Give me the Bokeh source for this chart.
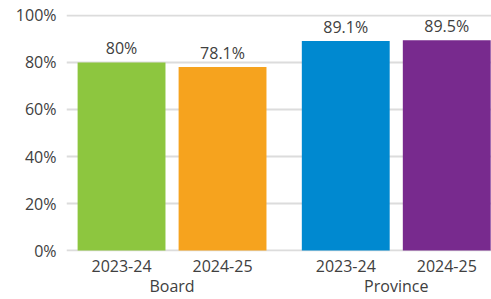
from bokeh.plotting import figure
from bokeh.models import (Range1d, FixedTicker, LinearAxis, ColumnDataSource,
                          LabelSet, PrintfTickFormatter)
from bokeh.core.properties import value
from bokeh.embed import file_html
from bokeh.resources import INLINE

groups = ["Board", "Board", "Province", "Province"]
years = ["2023-24", "2024-25", "2023-24", "2024-25"]
values = [80, 78.1, 89.1, 89.5]
colors = ["#8DC63F", "#F6A31E", "#0089D0", "#782A8E"]
y_ticks = [0, 20, 40, 60, 80, 100]

FONT = "Open Sans"
TEXT = "#404040"
GROUP_GAP = 0.22
BAR_W = 0.87

group_names = list(dict.fromkeys(groups))
xs = [i + GROUP_GAP * group_names.index(g) for i, g in enumerate(groups)]
group_centers = [sum(x for x, g in zip(xs, groups) if g == n) / groups.count(n) for n in group_names]
labels = [f"{v:g}%" for v in values]

src = ColumnDataSource(dict(x=xs, top=values, color=colors, label=labels))

p = figure(width=491, height=299, output_backend="svg", toolbar_location=None,
           x_range=Range1d(-0.545, 3.663), y_range=Range1d(-0.4, 100.4),
           min_border_left=66, min_border_right=0, min_border_top=14, min_border_bottom=46)
p.outline_line_color = None
p.background_fill_color = "white"
p.border_fill_color = "white"

p.vbar(x="x", top="top", bottom=0, width=BAR_W, fill_color="color", line_color=None, source=src)

p.add_layout(LabelSet(x="x", y="top", text="label", source=src, y_offset=3,
                      text_align="center", text_baseline="bottom",
                      text_font=value(FONT), text_font_size=value("16px"),
                      text_color=value(TEXT)))

# y axis
p.yaxis.ticker = FixedTicker(ticks=y_ticks)
p.yaxis.formatter = PrintfTickFormatter(format="%d%%")
p.yaxis.axis_line_color = None
p.yaxis.major_tick_line_color = None
p.yaxis.minor_tick_line_color = None
p.yaxis.major_tick_out = 0
p.yaxis.major_label_standoff = 10
p.yaxis.major_label_text_font = FONT
p.yaxis.major_label_text_font_size = "16px"
p.yaxis.major_label_text_color = TEXT

p.ygrid.ticker = FixedTicker(ticks=y_ticks)
p.ygrid.grid_line_color = "#dcdcdc"
p.ygrid.grid_line_width = 2
p.xgrid.grid_line_color = None

# x axis: years
xa = p.xaxis[0]
xa.ticker = FixedTicker(ticks=xs)
xa.major_label_overrides = {x: y for x, y in zip(xs, years)}
xa.axis_line_color = None
xa.major_tick_line_color = None
xa.minor_tick_line_color = None
xa.major_tick_out = 0
xa.major_label_standoff = 8
xa.major_label_text_font = FONT
xa.major_label_text_font_size = "16px"
xa.major_label_text_color = TEXT

# group axis
ga = LinearAxis(ticker=FixedTicker(ticks=group_centers),
                major_label_overrides={c: n for c, n in zip(group_centers, group_names)})
ga.axis_line_color = None
ga.major_tick_line_color = None
ga.minor_tick_line_color = None
ga.major_tick_out = 0
ga.major_label_standoff = 0
ga.major_label_text_font = FONT
ga.major_label_text_font_size = "16px"
ga.major_label_text_color = TEXT
p.add_layout(ga, "below")

open("out.html", "w").write(file_html(p, INLINE))
